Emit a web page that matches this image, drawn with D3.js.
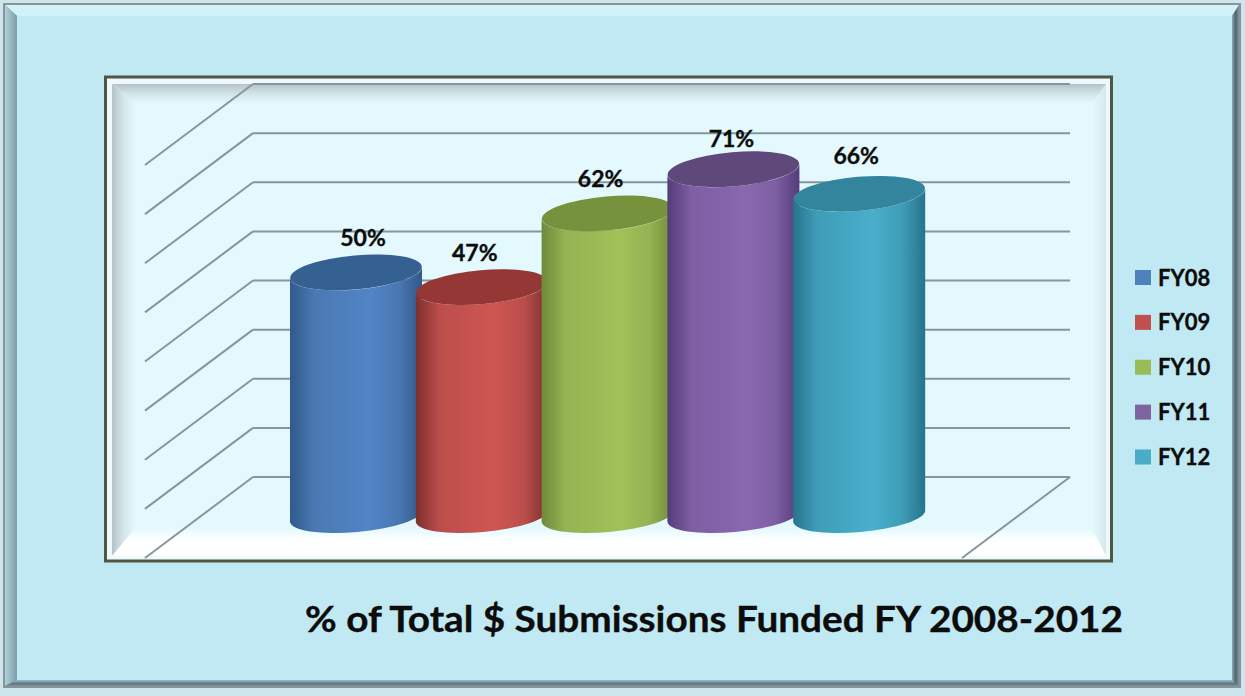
<!DOCTYPE html>
<html>
<head>
<meta charset="utf-8">
<script src="https://cdn.jsdelivr.net/npm/d3@7"></script>
<style>
  html, body { margin: 0; padding: 0; background: #cde6ec; }
  svg { display: block; }
  text { font-family: Lato, "Open Sans", sans-serif; font-weight: 700; fill: #0c0c0c; stroke: #0c0c0c; stroke-width: 0.35px; }
</style>
</head>
<body>
<div id="chart"></div>
<script>
// values
const years = ["FY08", "FY09", "FY10", "FY11", "FY12"];
const funded = [50, 47, 62, 71, 66];
const gridTicks = [0, 10, 20, 30, 40, 50, 60, 70, 80];
const titleText = "% of Total $ Submissions Funded FY 2008-2012";

// colours of each cylinder: edge, side, highlight, top
const sideColors = ["#2f5a8a", "#7d2f2c", "#6f8a3a", "#553c78", "#27738c"];
const midColors = ["#4a78b2", "#bb4e4b", "#94b352", "#7d5ea3", "#3f9db8"];
const lightColors = ["#5285c6", "#cf5552", "#a2c158", "#8a68b0", "#48afcb"];
const topColors = ["#366092", "#953735", "#76923c", "#5f497a", "#31859c"];
const legendColors = ["#4f81bd", "#c0504d", "#9bbb59", "#8064a2", "#4bacc6"];

const w = 1245, h = 696;

const svg = d3
  .select("#chart")
  .append("svg")
  .attr("width", w)
  .attr("height", h);
const defs = svg.append("defs");

function gradient(id, x1, y1, x2, y2, stops) {
  const g = defs
    .append("linearGradient")
    .attr("id", id)
    .attr("x1", x1)
    .attr("y1", y1)
    .attr("x2", x2)
    .attr("y2", y2);
  stops.forEach(function (s) {
    g.append("stop").attr("offset", s[0]).attr("stop-color", s[1]);
  });
}

// soft edges, the original is a slightly blurred scan
defs
  .append("filter")
  .attr("id", "soft")
  .append("feGaussianBlur")
  .attr("stdDeviation", 0.5);

// outer frame with bevel
svg.append("rect").attr("width", w).attr("height", h).attr("fill", "#cde6ec");
svg
  .append("rect")
  .attr("x", 3)
  .attr("y", 3)
  .attr("width", 1238)
  .attr("height", 685)
  .attr("fill", "#8b9398");
gradient("bevelLeft", 0, 0, 1, 0, [[0, "#a9d3dc"], [1, "#7f9ba6"]]);
gradient("bevelRight", 0, 0, 1, 0, [[0, "#8fa7b0"], [0.5, "#4f6670"], [1, "#7b949d"]]);
gradient("bevelBottom", 0, 0, 0, 1, [[0, "#9cc0ca"], [0.6, "#5c7680"], [1, "#7b949d"]]);
svg.append("polygon").attr("points", "5,5 1239,5 1232,16 17,16").attr("fill", "#d0f3fa");
svg.append("polygon").attr("points", "5,5 17,16 17,680 5,686").attr("fill", "url(#bevelLeft)");
svg.append("polygon").attr("points", "1239,5 1239,686 1232,680 1232,16").attr("fill", "url(#bevelRight)");
svg.append("polygon").attr("points", "5,686 17,680 1232,680 1239,686").attr("fill", "url(#bevelBottom)");
svg.append("rect").attr("x", 17).attr("y", 16).attr("width", 1215).attr("height", 664).attr("fill", "#c1e9f3");

// inner plot panel
svg
  .append("rect")
  .attr("x", 105.5)
  .attr("y", 77)
  .attr("width", 1006)
  .attr("height", 484)
  .attr("fill", "#e3f9fe")
  .attr("stroke", "#505642")
  .attr("stroke-width", 3);
gradient("panelTop", 0, 0, 0, 1, [[0, "#b4c3c6"], [0.5, "#d2e6ea"], [1, "#e3f9fe"]]);
gradient("panelLeft", 0, 0, 1, 0, [[0, "#b4c2c8"], [0.5, "#d4e6ea"], [1, "#e3f9fe"]]);
gradient("panelRight", 0, 0, 1, 0, [[0, "#e3f9fe"], [1, "#d6e9ed"]]);
gradient("panelBottom", 0, 0, 0, 1, [[0, "#e3f9fe"], [0.45, "#ffffff"], [1, "#ffffff"]]);
svg.append("rect").attr("x", 107).attr("y", 79).attr("width", 1003).attr("height", 480).attr("fill", "#eef9fb");
svg.append("polygon").attr("points", "112,84 1106,84 1092,104 135,104").attr("fill", "url(#panelTop)");
svg.append("polygon").attr("points", "112,84 135,104 135,533 112,556").attr("fill", "url(#panelLeft)");
svg.append("polygon").attr("points", "1106,84 1106,556 1092,533 1092,104").attr("fill", "url(#panelRight)");
svg.append("rect").attr("x", 135).attr("y", 104).attr("width", 957).attr("height", 429).attr("fill", "#e3f9fe");
svg.append("polygon").attr("points", "112,556 135,528 1092,528 1106,556").attr("fill", "url(#panelBottom)");

// scales: back wall, and the front plane the cylinders stand on
const yWall = d3.scaleLinear().domain([0, 80]).range([477, 84]);
const yBar = d3.scaleLinear().domain([0, 80]).range([518, 125]);
const x = d3.scaleBand().domain(years).range([290, 919]);
const depthX = 108, depthY = 81;
const wallLeft = 253, wallRight = 1070;

const grid = svg
  .append("g")
  .attr("stroke", "#87969a")
  .attr("stroke-width", 2)
  .attr("fill", "none")
  .attr("filter", "url(#soft)");
grid
  .selectAll("line.back")
  .data(gridTicks)
  .enter()
  .append("line")
  .attr("x1", wallLeft)
  .attr("x2", wallRight)
  .attr("y1", function (d) { return yWall(d); })
  .attr("y2", function (d) { return yWall(d); });
grid
  .selectAll("line.side")
  .data(gridTicks)
  .enter()
  .append("line")
  .attr("x1", wallLeft)
  .attr("x2", wallLeft - depthX)
  .attr("y1", function (d) { return yWall(d); })
  .attr("y2", function (d) { return yWall(d) + depthY; });
grid
  .append("line")
  .attr("x1", wallRight)
  .attr("x2", wallRight - depthX)
  .attr("y1", yWall(0))
  .attr("y2", yWall(0) + depthY);

// cylinders
const barW = 132, ryTop = 17, ryBottom = 16, tilt = -5;
const rx = barW / 2;
const dy = rx * Math.sin((tilt * Math.PI) / 180);

years.forEach(function (yr, i) {
  gradient("side" + i, 0, 0, 1, 0, [
    [0, sideColors[i]],
    [0.18, midColors[i]],
    [0.6, lightColors[i]],
    [0.82, midColors[i]],
    [1, sideColors[i]],
  ]);
});

const bars = svg
  .selectAll("g.bar")
  .data(years)
  .enter()
  .append("g")
  .attr("class", "bar")
  .attr("filter", "url(#soft)")
  .attr("transform", function (d) {
    return "translate(" + (x(d) + barW / 2) + ",0)";
  });

bars
  .append("path")
  .attr("fill", function (d, i) { return "url(#side" + i + ")"; })
  .attr("d", function (d, i) {
    const top = yBar(funded[i]), bot = yBar(0) - 2;
    return (
      "M" + -rx + "," + (top - dy) +
      "L" + -rx + "," + (bot - dy) +
      "A" + rx + "," + ryBottom + " " + tilt + " 0 0 " + rx + "," + (bot + dy) +
      "L" + rx + "," + (top + dy) +
      "A" + rx + "," + ryTop + " " + tilt + " 0 1 " + -rx + "," + (top - dy) + "Z"
    );
  });

bars
  .append("ellipse")
  .attr("rx", rx)
  .attr("ry", ryTop)
  .attr("fill", function (d, i) { return topColors[i]; })
  .attr("transform", function (d, i) {
    return "translate(0," + yBar(funded[i]) + ") rotate(" + tilt + ")";
  });

// data labels sit a little off-centre in the original
const labelNudgeX = [7, -7, -7, -2, -3];
const labelNudgeY = [0, 0, 0, 4, -4];
svg
  .selectAll("text.value")
  .data(years)
  .enter()
  .append("text")
  .attr("class", "value")
  .attr("text-anchor", "middle")
  .attr("font-size", 23)
  .attr("x", function (d, i) { return x(d) + barW / 2 + labelNudgeX[i]; })
  .attr("y", function (d, i) { return yBar(funded[i]) - 26 + labelNudgeY[i]; })
  .text(function (d, i) { return funded[i] + "%"; });

// legend
const legendY = d3.scalePoint().domain(years).range([277.5, 457]);
const legend = svg
  .selectAll("g.legend")
  .data(years)
  .enter()
  .append("g")
  .attr("class", "legend")
  .attr("transform", function (d) {
    return "translate(1135," + legendY(d) + ")";
  });
legend
  .append("rect")
  .attr("y", -7.5)
  .attr("width", 16)
  .attr("height", 15)
  .attr("fill", function (d, i) { return legendColors[i]; });
legend
  .append("text")
  .attr("x", 23)
  .attr("y", 8)
  .attr("font-size", 22)
  .text(function (d) { return d; });

// title
svg
  .append("text")
  .attr("x", 305)
  .attr("y", 632)
  .attr("font-size", 36)
  .attr("textLength", 818)
  .attr("lengthAdjust", "spacingAndGlyphs")
  .text(titleText);
</script>
</body>
</html>
